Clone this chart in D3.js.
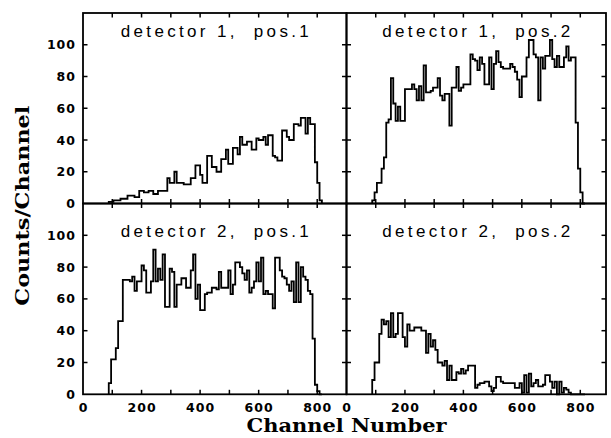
<!DOCTYPE html>
<html><head><meta charset="utf-8">
<script src="https://cdn.jsdelivr.net/npm/d3@7"></script>
<style>html,body{margin:0;padding:0;background:#fff}svg{display:block}</style>
</head><body>
<script>
// ---- data (counts per 8-channel bin, first bin starts at channel 88) ----
const binStart = 88;
const binWidth = 8;
const det1pos1 = [1,1,2,2,2,3,3,3,5,5, 5,4,4,8,8,7,7,8,8,6, 6,8,8,8,8,16,13,13,20,13,
  13,13,12,12,12,16,16,24,24,18, 13,13,30,30,23,23,20,20,28,28, 34,25,25,35,35,31,42,37,37,39,
  39,34,34,41,40,40,42,37,43,43, 30,29,27,27,46,46,42,40,40,50, 50,49,54,54,44,54,50,50,26,13, 2];
const det1pos2 = [2,7,13,13,22,29,51,53,79,63, 52,61,52,52,72,72,72,75,72,65, 74,65,87,70,70,71,73,73,79,68,
  65,69,69,49,73,73,86,71,73,75, 75,75,94,91,90,84,92,88,75,75, 92,72,88,96,89,86,85,85,85,88,
  86,83,78,67,80,80,92,103,103,94, 92,65,92,85,93,93,103,91,86,93, 86,86,92,99,90,92,92,51,22,7, 0];
const det2pos1 = [7,22,22,29,46,46,72,72,72,71, 74,65,71,71,81,78,64,64,71,91, 71,79,72,88,55,55,79,77,55,69,
  69,73,73,67,67,78,88,60,69,53, 53,63,64,64,67,67,66,77,67,67, 67,78,63,69,83,83,80,76,72,78,
  64,67,71,83,71,86,63,65,63,63, 54,86,86,78,74,73,69,65,71,58, 83,58,80,74,72,65,63,35,6,2, 0];
const det2pos2 = [9,20,20,38,47,44,46,36,51,36, 38,51,51,36,30,44,40,40,42,42, 42,40,40,26,38,30,34,28,20,20,
  18,21,9,18,9,9,14,13,16,13, 15,18,18,18,4,6,7,7,8,8, 5,2,4,11,11,8,7,7,7,7,
  7,4,4,7,1,12,1,13,5,7, 9,5,5,6,12,12,8,4,8,0, 8,1,4,3,1,0,0,0,0,0, 0];
const panelTitles = ["detector 1,  pos.1", "detector 1,  pos.2", "detector 2,  pos.1", "detector 2,  pos.2"];
const xTickLabels = [0, 200, 400, 600, 800];
const xMinorTicks = [100, 200, 300, 400, 500, 600, 700, 800];
const yTickLabels = [0, 20, 40, 60, 80, 100];
const xTitle = "Channel Number";
const yTitle = "Counts/Channel";

// ---- layout ----
const W = 611, H = 438;
const L = 83, M = 346.5, R = 606, T = 13, MID = 203.5, B = 394.3;

const svg = d3.select("body").append("svg").attr("width", W).attr("height", H);

const panels = [
  {data: det1pos1, title: panelTitles[0], x: [L, M], y: [MID, T], xmax: 900, left: true, bottom: false, ty: 37},
  {data: det1pos2, title: panelTitles[1], x: [M, R], y: [MID, T], xmax: 888, left: false, bottom: false, ty: 37},
  {data: det2pos1, title: panelTitles[2], x: [L, M], y: [B, MID], xmax: 900, left: true, bottom: true, ty: 237},
  {data: det2pos2, title: panelTitles[3], x: [M, R], y: [B, MID], xmax: 888, left: false, bottom: true, ty: 237}
];

const tickLen = 4.5;
panels.forEach(p => {
  const xs = d3.scaleLinear().domain([0, p.xmax]).range(p.x);
  const ys = d3.scaleLinear().domain([0, 120]).range(p.y);
  const g = svg.append("g");

  // histogram outline
  const pts = [[binStart, 0]];
  p.data.forEach((v, i) => pts.push([binStart + i * binWidth, v]));
  pts.push([binStart + p.data.length * binWidth, 0]);
  const line = d3.line().x(d => xs(d[0])).y(d => ys(d[1])).curve(d3.curveStepAfter);
  g.append("path").attr("d", line(pts)).attr("fill", "none").attr("stroke", "#000")
    .attr("stroke-width", 1.8).attr("stroke-linejoin", "miter");

  // frame
  g.append("rect").attr("x", p.x[0]).attr("y", p.y[1]).attr("width", p.x[1] - p.x[0])
    .attr("height", p.y[0] - p.y[1]).attr("fill", "none").attr("stroke", "#000").attr("stroke-width", 1.8);

  // inward ticks
  xMinorTicks.forEach(t => {
    g.append("line").attr("x1", xs(t)).attr("x2", xs(t)).attr("y1", p.y[0]).attr("y2", p.y[0] - tickLen)
      .attr("stroke", "#000").attr("stroke-width", 1.5);
    g.append("line").attr("x1", xs(t)).attr("x2", xs(t)).attr("y1", p.y[1]).attr("y2", p.y[1] + tickLen)
      .attr("stroke", "#000").attr("stroke-width", 1.5);
  });
  [20, 40, 60, 80, 100].forEach(t => {
    g.append("line").attr("x1", p.x[0]).attr("x2", p.x[0] + tickLen).attr("y1", ys(t)).attr("y2", ys(t))
      .attr("stroke", "#000").attr("stroke-width", 1.5);
    g.append("line").attr("x1", p.x[1]).attr("x2", p.x[1] - tickLen).attr("y1", ys(t)).attr("y2", ys(t))
      .attr("stroke", "#000").attr("stroke-width", 1.5);
  });

  // y tick labels
  if (p.left) {
    yTickLabels.forEach(t => {
      g.append("text").attr("x", p.x[0] - 7).attr("y", ys(t)).attr("dy", "0.36em")
        .attr("text-anchor", "end").attr("font-family", "DejaVu Sans").attr("font-weight", "bold")
        .attr("font-size", 12.5).attr("letter-spacing", 1).text(t);
    });
  }
  // x tick labels
  if (p.bottom) {
    xTickLabels.forEach(t => {
      g.append("text").attr("x", xs(t) + 0.5).attr("y", 412).attr("text-anchor", "middle")
        .attr("font-family", "DejaVu Sans").attr("font-weight", "bold").attr("font-size", 12.5)
        .attr("letter-spacing", 1).text(t);
    });
  }
  // panel title
  g.append("text").attr("x", (p.x[0] + p.x[1]) / 2).attr("y", p.ty).attr("text-anchor", "middle")
    .attr("font-family", "Liberation Sans").attr("font-size", 17)
    .attr("textLength", 188).attr("lengthAdjust", "spacing")
    .style("white-space", "pre").text(p.title);
});

// axis titles
svg.append("text").attr("x", M).attr("y", 432).attr("text-anchor", "middle")
  .attr("font-family", "DejaVu Serif").attr("font-weight", "bold").attr("font-size", 18)
  .attr("textLength", 200).attr("lengthAdjust", "spacingAndGlyphs").text(xTitle);
svg.append("text").attr("transform", `translate(29,${(T + B) / 2 + 2}) rotate(-90)`).attr("text-anchor", "middle")
  .attr("font-family", "DejaVu Serif").attr("font-weight", "bold").attr("font-size", 19)
  .attr("textLength", 200).attr("lengthAdjust", "spacingAndGlyphs").text(yTitle);
</script>
</body></html>
